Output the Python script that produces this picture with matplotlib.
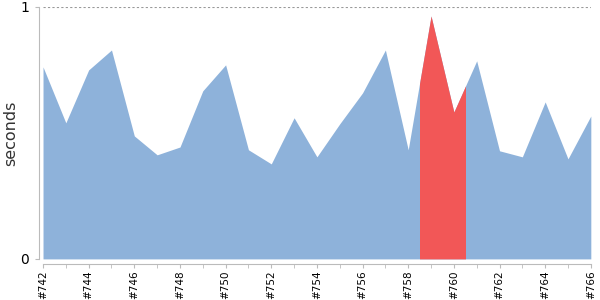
import numpy as np
import matplotlib.pyplot as plt
from matplotlib.patches import Rectangle

# build numbers and their durations (seconds)
builds = np.arange(742, 767)
secs = [0.762, 0.540, 0.750, 0.829, 0.488, 0.413, 0.444, 0.667, 0.770, 0.433,
        0.377, 0.560, 0.405, 0.536, 0.659, 0.829, 0.433, 0.964, 0.583, 0.786,
        0.429, 0.405, 0.623, 0.397, 0.567]
highlight = (758.5, 760.5)  # selected build range
tick_builds = builds[::2]

fig = plt.figure(figsize=(6, 3), dpi=100)
ax = fig.add_axes([0.0717, 0.137, 0.913, 0.84])

ax.fill_between(builds, 0, secs, color='#8eb2da', lw=0)
red = ax.fill_between(builds, 0, secs, color='#f25757', lw=0)
clip = Rectangle((highlight[0], 0), highlight[1] - highlight[0], 2, transform=ax.transData)
red.set_clip_path(clip)

ax.axhline(1, color='#999999', lw=0.8, ls=(0, (2, 2)))

ax.set_xlim(742, 766)
ax.set_ylim(0, 1)
ax.set_xticks(tick_builds)
ax.set_xticks(builds, minor=True)
ax.set_xticklabels(['#%d' % b for b in tick_builds])
ax.set_yticks([0, 1])
ax.set_yticklabels(['0', '1'], fontsize=10, color='#444444')
ax.tick_params(axis='x', which='both', length=3, color='#bbbbbb', pad=1.5)
ax.tick_params(axis='x', labelrotation=90, labelsize=7.5)
ax.tick_params(axis='y', length=3, color='#bbbbbb', pad=4)

for s in ['top', 'right']:
    ax.spines[s].set_visible(False)
ax.spines['left'].set_position(('outward', 3))
ax.spines['bottom'].set_position(('outward', 4))
ax.spines['left'].set_color('#bbbbbb')
ax.spines['bottom'].set_color('#bbbbbb')

ax.set_ylabel('seconds', fontsize=11.5, color='#333333')
ax.yaxis.set_label_coords(-0.046, 0.5)

plt.savefig('out.png')
